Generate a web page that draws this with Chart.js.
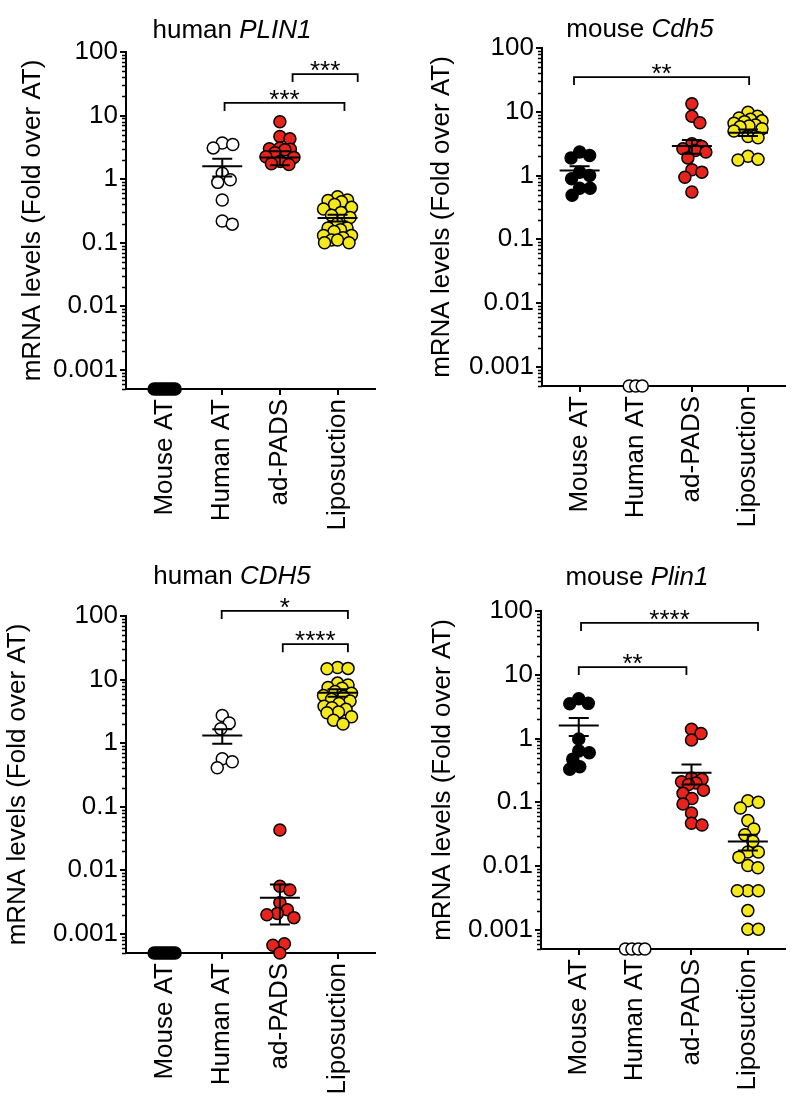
<!DOCTYPE html>
<html><head><meta charset="utf-8">
<script src="https://cdn.jsdelivr.net/npm/chart.js@4.4.0/dist/chart.umd.min.js"></script>
<style>
body{margin:0;background:#fff;width:792px;height:1100px;position:relative;overflow:hidden;font-family:"Liberation Sans",Arial,sans-serif;}
canvas{position:absolute;}
.title{position:absolute;font-size:26px;color:#000;white-space:nowrap;transform:translateX(-50%);line-height:26px;z-index:2;}
</style></head><body>
<div class="title" style="left:232px;top:16px">human <i>PLIN1</i></div>
<div class="title" style="left:640px;top:15px">mouse <i>Cdh5</i></div>
<div class="title" style="left:232px;top:562px">human <i>CDH5</i></div>
<div class="title" style="left:637px;top:563px">mouse <i>Plin1</i></div>
<canvas id="c1" width="396" height="550" style="left:0;top:0"></canvas>
<canvas id="c2" width="396" height="550" style="left:396px;top:0"></canvas>
<canvas id="c3" width="396" height="550" style="left:0;top:550px"></canvas>
<canvas id="c4" width="396" height="550" style="left:396px;top:550px"></canvas>
<script>
// ---------- data ----------
const categories = ['Mouse AT', 'Human AT', 'ad-PADS', 'Liposuction'];
const yTickValues = [0.001, 0.01, 0.1, 1, 10, 100];
const yTickLabels = ['0.001', '0.01', '0.1', '1', '10', '100'];
const yAxisTitle = 'mRNA levels (Fold over AT)';
// 0 = not detected (drawn on the axis floor)

// human PLIN1
const hPLIN1_mouseAT = [0, 0, 0, 0, 0, 0, 0, 0, 0];
const hPLIN1_humanAT = [3.7, 3.5, 3.1, 1.24, 0.98, 0.89, 0.47, 0.22, 0.196];
const hPLIN1_adPADS = [8.0, 4.7, 4.3, 3.1, 3.0, 2.95, 2.9, 2.6, 2.25, 2.2, 1.9, 1.75, 1.7];
const hPLIN1_lipo = [0.53, 0.47, 0.46, 0.44, 0.40, 0.36, 0.34, 0.30, 0.27, 0.25, 0.2, 0.17, 0.17, 0.16, 0.15, 0.13, 0.13, 0.12, 0.11, 0.11, 0.10, 0.10];
const hPLIN1_mean = [null, 1.6, 2.2, 0.245];
const hPLIN1_sem = [null, 0.5, 0.55, 0.03];
const hPLIN1_sigFrom = [1.04, 2.22];
const hPLIN1_sigTo = [3.12, 3.35];
const hPLIN1_sigLevel = [15.8, 45];
const hPLIN1_sigLabel = ['***', '***'];

// mouse Cdh5
const mCdh5_mouseAT = [2.33, 2.06, 1.89, 1.13, 1.0, 0.89, 0.63, 0.63, 0.49];
const mCdh5_humanAT = [0, 0, 0];
const mCdh5_adPADS = [13.3, 8.5, 6.7, 3.14, 2.85, 2.62, 2.47, 2.33, 1.89, 1.23, 1.13, 0.94, 0.55];
const mCdh5_lipo = [9.8, 8.5, 8.0, 7.6, 7.2, 7.0, 6.6, 6.2, 6.0, 5.8, 5.4, 5.0, 4.1, 3.9, 2.0, 1.8, 1.75];
const mCdh5_mean = [1.2, null, 2.9, 4.7];
const mCdh5_sem = [0.2, null, 0.7, 0.55];
const mCdh5_sigFrom = [-0.1];
const mCdh5_sigTo = [3.02];
const mCdh5_sigLevel = [35];
const mCdh5_sigLabel = ['**'];

// human CDH5
const hCDH5_mouseAT = [0, 0, 0, 0, 0, 0, 0, 0, 0];
const hCDH5_humanAT = [2.72, 2.07, 1.68, 0.57, 0.51, 0.41];
const hCDH5_adPADS = [0.043, 0.0056, 0.0049, 0.0031, 0.0024, 0.0021, 0.0020, 0.0018, 0.0007, 0.00066, 0];
const hCDH5_lipo = [15.5, 15.0, 14.8, 8.8, 8.2, 7.5, 7.3, 6.5, 6.1, 5.6, 5.4, 4.9, 4.6, 4.2, 3.8, 3.6, 3.4, 3.1, 3.0, 2.6, 2.3, 2.0];
const hCDH5_mean = [null, 1.32, 0.0037, 6.2];
const hCDH5_sem = [null, 0.34, 0.0023, 0.85];
const hCDH5_sigFrom = [0.99, 2.05];
const hCDH5_sigTo = [3.18, 3.18];
const hCDH5_sigLevel = [120, 36];
const hCDH5_sigLabel = ['*', '****'];

// mouse Plin1
const mPlin1_mouseAT = [4.2, 3.56, 3.5, 0.98, 0.64, 0.6, 0.475, 0.36, 0.33];
const mPlin1_humanAT = [0, 0, 0, 0];
const mPlin1_adPADS = [1.4, 1.2, 0.95, 0.24, 0.23, 0.21, 0.2, 0.19, 0.155, 0.138, 0.115, 0.094, 0.068, 0.047, 0.044];
const mPlin1_lipo = [0.106, 0.1, 0.0815, 0.0516, 0.038, 0.031, 0.0245, 0.0166, 0.0166, 0.0138, 0.0102, 0.0094, 0.0041, 0.0041, 0.0041, 0.002, 0.00102, 0.00102];
const mPlin1_mean = [1.6, null, 0.29, 0.0243];
const mPlin1_sem = [0.5, null, 0.1, 0.0068];
const mPlin1_sigFrom = [0.04, 0.0];
const mPlin1_sigTo = [3.18, 1.91];
const mPlin1_sigLevel = [65, 13.2];
const mPlin1_sigLabel = ['****', '**'];

// ---------- style ----------
const Y_MIN = 0.0005, Y_MAX = 100;
const X_MIN = -0.67, X_MAX = 3.65;
const groupColors = ['#000000', '#ffffff', '#e8231b', '#f5e91c'];
const FONT = "'Liberation Sans', Arial, sans-serif";
const R = 6;
const SWARM_HALF = 14;
Chart.defaults.font.family = FONT;
Chart.defaults.color = '#000';

const decoPlugin = {
  id: 'deco',
  afterDatasetsDraw(chart, args, opts) {
    const ctx = chart.ctx, xs = chart.scales.x, ys = chart.scales.y;
    ctx.save();
    ctx.strokeStyle = '#000';
    ctx.lineWidth = 2;
    opts.mean.forEach((m, i) => {
      if (m == null) return;
      const s = opts.sem[i];
      const cx = xs.getPixelForValue(i);
      const yM = ys.getPixelForValue(m);
      const yT = ys.getPixelForValue(m + s);
      const yB = ys.getPixelForValue(Math.max(m - s, Y_MIN));
      ctx.beginPath();
      ctx.moveTo(cx - 20, yM); ctx.lineTo(cx + 20, yM);
      ctx.moveTo(cx - 10, yT); ctx.lineTo(cx + 10, yT);
      ctx.moveTo(cx - 10, yB); ctx.lineTo(cx + 10, yB);
      ctx.moveTo(cx, yT); ctx.lineTo(cx, yB);
      ctx.stroke();
    });
    ctx.restore();
  },
  afterDraw(chart, args, opts) {
    const ctx = chart.ctx, xs = chart.scales.x, ys = chart.scales.y;
    ctx.save();
    ctx.strokeStyle = '#000';
    ctx.lineWidth = 1.5;
    const ax = chart.chartArea.left;
    ctx.beginPath();
    for (let k = -4; k <= 2; k++) {
      for (let m = 2; m <= 9; m++) {
        const v = m * Math.pow(10, k);
        if (v < Y_MIN || v > Y_MAX) continue;
        const py = Math.round(ys.getPixelForValue(v)) + 0.5;
        ctx.moveTo(ax - 4, py); ctx.lineTo(ax, py);
      }
    }
    ctx.stroke();
    ctx.lineWidth = 1.8;
    ctx.fillStyle = '#000';
    ctx.font = '26px ' + FONT;
    ctx.textAlign = 'center';
    ctx.textBaseline = 'alphabetic';
    opts.sigFrom.forEach((f, i) => {
      const x1 = xs.getPixelForValue(f), x2 = xs.getPixelForValue(opts.sigTo[i]);
      const y = ys.getPixelForValue(opts.sigLevel[i]);
      ctx.beginPath();
      ctx.moveTo(x1, y + 8); ctx.lineTo(x1, y); ctx.lineTo(x2, y); ctx.lineTo(x2, y + 8);
      ctx.stroke();
      ctx.fillText(opts.sigLabel[i], (x1 + x2) / 2, y + 5);
    });
    ctx.restore();
  }
};

function makePanel(id, groups, mean, sem, sigFrom, sigTo, sigLevel, sigLabel, geom) {
  const datasets = groups.map((vals, gi) => ({
    data: vals.map(v => ({ x: gi, y: v > 0 ? v : Y_MIN })),
    pointRadius: R,
    pointHoverRadius: R,
    pointBackgroundColor: groupColors[gi],
    pointBorderColor: '#000',
    pointBorderWidth: 1.5,
    showLine: false,
    clip: false
  }));
  const chart = new Chart(document.getElementById(id), {
    type: 'scatter',
    data: { datasets },
    options: {
      responsive: false,
      animation: false,
      events: [],
      layout: { padding: { left: 0, top: geom.top, right: geom.right, bottom: 0 } },
      plugins: {
        legend: { display: false },
        tooltip: { enabled: false },
        deco: { mean, sem, sigFrom, sigTo, sigLevel, sigLabel }
      },
      scales: {
        x: {
          type: 'linear', min: X_MIN, max: X_MAX,
          afterBuildTicks: s => { s.ticks = categories.map((c, i) => ({ value: i })); },
          afterFit: s => { s.height = geom.xH; },
          ticks: {
            callback: v => categories[v],
            minRotation: 90, maxRotation: 90, autoSkip: false,
            font: { size: 26 }, color: '#000', padding: 4
          },
          grid: { display: true, drawOnChartArea: false, drawTicks: true, tickLength: 6, color: '#000', lineWidth: 2 },
          border: { display: true, color: '#000', width: 2 }
        },
        y: {
          type: 'logarithmic', min: Y_MIN, max: Y_MAX,
          afterBuildTicks: s => { s.ticks = yTickValues.map(v => ({ value: v, major: true })); },
          afterFit: s => { s.width = geom.yW; },
          ticks: {
            callback: v => { const i = yTickValues.indexOf(v); return i >= 0 ? yTickLabels[i] : ''; },
            autoSkip: false, font: { size: 26 }, color: '#000', padding: 2
          },
          grid: { display: true, drawOnChartArea: false, drawTicks: true, tickLength: 6, color: '#000', lineWidth: 2 },
          border: { display: true, color: '#000', width: 2 },
          title: { display: true, text: yAxisTitle, font: { size: 26 }, color: '#000', padding: { top: geom.tPad, bottom: 0 } }
        }
      }
    },
    plugins: [decoPlugin]
  });
  // beeswarm arrangement computed from the values through the scales
  const xs = chart.scales.x, ys = chart.scales.y;
  const unit = xs.getPixelForValue(1) - xs.getPixelForValue(0);
  const minD = 2 * R * 0.85;
  chart.data.datasets.forEach((ds, gi) => {
    const vals = groups[gi];
    const offs = new Array(vals.length).fill(0);
    const placed = [];
    const zeros = vals.map((v, i) => i).filter(i => vals[i] <= 0);
    const span = Math.min((zeros.length - 1) * 6.5, 21);
    const yFloor = ys.getPixelForValue(Y_MIN);
    zeros.forEach((idx, k) => {
      const o = zeros.length > 1 ? -span / 2 + span * k / (zeros.length - 1) : 0;
      offs[idx] = o; placed.push({ x: o, y: yFloor });
    });
    const nz = vals.map((v, i) => i).filter(i => vals[i] > 0).sort((a, b) => vals[b] - vals[a]);
    nz.forEach(idx => {
      const py = ys.getPixelForValue(vals[idx]);
      let best = null, bestD = -1;
      for (let s = 0; s <= SWARM_HALF * 4; s++) {
        const cand = s === 0 ? 0 : (s % 2 ? 1 : -1) * Math.ceil(s / 2) * 0.5;
        let dmin = Infinity;
        placed.forEach(p => { dmin = Math.min(dmin, Math.hypot(p.x - cand, p.y - py)); });
        if (dmin >= minD) { best = cand; break; }
        if (dmin > bestD + 0.01) { bestD = dmin; best = cand; }
      }
      offs[idx] = best; placed.push({ x: best, y: py });
    });
    ds.data = vals.map((v, i) => ({ x: gi + offs[i] / unit, y: v > 0 ? v : Y_MIN }));
  });
  chart.update('none');
  return chart;
}

makePanel('c1', [hPLIN1_mouseAT, hPLIN1_humanAT, hPLIN1_adPADS, hPLIN1_lipo],
  hPLIN1_mean, hPLIN1_sem, hPLIN1_sigFrom, hPLIN1_sigTo, hPLIN1_sigLevel, hPLIN1_sigLabel,
  { top: 52, right: 21, yW: 126, xH: 161, tPad: 17 });
makePanel('c2', [mCdh5_mouseAT, mCdh5_humanAT, mCdh5_adPADS, mCdh5_lipo],
  mCdh5_mean, mCdh5_sem, mCdh5_sigFrom, mCdh5_sigTo, mCdh5_sigLevel, mCdh5_sigLabel,
  { top: 48, right: 4, yW: 146, xH: 164, tPad: 30 });
makePanel('c3', [hCDH5_mouseAT, hCDH5_humanAT, hCDH5_adPADS, hCDH5_lipo],
  hCDH5_mean, hCDH5_sem, hCDH5_sigFrom, hCDH5_sigTo, hCDH5_sigLevel, hCDH5_sigLabel,
  { top: 66, right: 21, yW: 126, xH: 147, tPad: 2 });
makePanel('c4', [mPlin1_mouseAT, mPlin1_humanAT, mPlin1_adPADS, mPlin1_lipo],
  mPlin1_mean, mPlin1_sem, mPlin1_sigFrom, mPlin1_sigTo, mPlin1_sigLevel, mPlin1_sigLabel,
  { top: 61, right: 4, yW: 145, xH: 151, tPad: 31 });
</script>
</body></html>
